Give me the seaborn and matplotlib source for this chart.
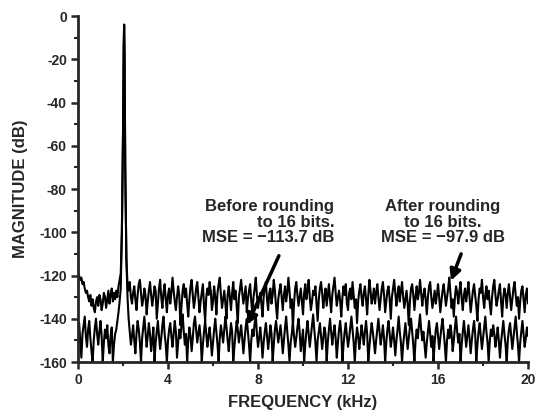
import numpy as np
import pandas as pd
import matplotlib
matplotlib.use("Agg")
import matplotlib.pyplot as plt
import seaborn as sns
from matplotlib.ticker import MultipleLocator

# ------------------------------
# Data (dB), 0.05 kHz steps
# ------------------------------
# "After rounding to 16 bits" (upper noise floor), 0.0 - 1.9 kHz
after_low = [
    -118, -120, -122, -121, -124, -123, -126, -128, -127, -130,
    -132, -129, -134, -131, -135, -137, -132, -130, -134, -129,
    -131, -136, -133, -128, -130, -135, -131, -127, -133, -129,
    -126, -132, -128, -131, -127, -130, -125, -122, -119,
]
# 2.2 - 20.0 kHz
after_high = [
    -124, -127, -123, -130, -133, -128, -125, -131, -136, -129, -124, -122, -128, -134, -131, -126, -129, -138, -132, -127,
    -123, -129, -134, -130, -125, -127, -140, -133, -126, -122, -130, -135, -128, -124, -131, -137, -129, -126, -133, -128,
    -121, -127, -132, -136, -130, -125, -129, -143, -134, -127, -124, -130, -126, -133, -139, -131, -125, -122, -129, -135,
    -131, -126, -123, -130, -137, -132, -128, -124, -134, -141, -130, -126, -129, -123, -127, -136, -132, -125, -130, -138,
    -128, -124, -121, -129, -135, -131, -127, -133, -140, -129, -125, -130, -136, -128, -123, -131, -127, -134, -142, -130,
    -126, -122, -128, -133, -129, -125, -137, -131, -127, -124, -132, -138, -130, -126, -121, -129, -135, -131, -128, -133,
    -139, -130, -125, -123, -131, -136, -128, -126, -133, -129, -122, -127, -134, -140, -131, -127, -124, -130, -136, -129,
    -125, -132, -128, -121, -127, -135, -131, -144, -133, -126, -123, -129, -134, -130, -126, -132, -138, -128, -124, -131,
    -127, -122, -130, -136, -132, -127, -129, -125, -133, -141, -131, -126, -123, -128, -135, -130, -126, -134, -129, -124,
    -131, -137, -129, -125, -121, -128, -134, -130, -127, -132, -139, -130, -125, -129, -124, -133, -136, -128, -126, -131,
    -123, -129, -135, -131, -142, -132, -127, -124, -130, -134, -128, -125, -131, -138, -129, -122, -127, -133, -130, -126,
    -133, -128, -124, -130, -136, -131, -126, -123, -129, -137, -132, -127, -125, -131, -140, -130, -126, -122, -128, -134,
    -129, -125, -132, -127, -123, -130, -135, -131, -127, -133, -143, -132, -126, -124, -129, -136, -130, -125, -131, -128,
    -122, -128, -134, -129, -126, -131, -138, -130, -125, -123, -130, -135, -131, -127, -133, -129, -124, -130, -137, -132,
    -127, -124, -129, -134, -130, -126, -121, -128, -135, -131, -139, -130, -125, -128, -133, -127, -123, -131, -136, -129,
    -126, -132, -128, -123, -130, -137, -132, -127, -124, -129, -134, -141, -131, -126, -128, -122, -130, -135, -129, -125,
    -131, -127, -133, -138, -130, -125, -122, -129, -134, -131, -127, -124, -132, -139, -130, -126, -129, -135, -128, -124,
    -130, -136, -131, -126, -123, -129, -134, -130, -140, -132, -127, -125, -131, -137, -129, -126, -133,
]

# "Before rounding" (lower noise floor), 0.0 - 1.9 kHz
before_low = [
    -146, -142, -150, -158, -147, -143, -139, -148, -153, -145,
    -141, -149, -155, -160, -150, -144, -140, -147, -152, -146,
    -141, -148, -160, -151, -145, -149, -143, -152, -156, -148,
    -144, -160, -152, -147, -145, -141, -137, -132, -126,
]
# 2.2 - 20.0 kHz
before_high = [
    -130, -140, -146, -152, -148, -143, -150, -156, -147, -141, -145, -151, -160, -149, -144, -139, -146, -153, -148, -142,
    -147, -155, -150, -144, -160, -151, -146, -141, -148, -154, -149, -143, -139, -147, -152, -160, -150, -145, -142, -148,
    -153, -147, -141, -146, -158, -151, -145, -149, -143, -138, -146, -152, -147, -160, -150, -144, -148, -155, -149, -142,
    -139, -145, -151, -147, -143, -149, -160, -152, -146, -141, -147, -153, -148, -144, -150, -157, -151, -145, -140, -146,
    -152, -160, -149, -143, -147, -151, -145, -139, -144, -150, -155, -148, -142, -146, -160, -153, -147, -141, -145, -151,
    -147, -143, -149, -156, -150, -144, -140, -146, -152, -160, -150, -145, -148, -142, -138, -147, -153, -149, -144, -150,
    -158, -151, -146, -142, -148, -154, -149, -143, -147, -160, -152, -145, -141, -146, -151, -147, -143, -149, -156, -150,
    -144, -139, -146, -152, -160, -151, -147, -142, -148, -153, -149, -144, -140, -146, -155, -150, -145, -160, -152, -146,
    -141, -147, -153, -148, -143, -138, -145, -151, -160, -150, -146, -142, -148, -154, -149, -144, -147, -160, -151, -145,
    -140, -146, -152, -147, -143, -149, -158, -151, -145, -141, -147, -160, -152, -146, -142, -148, -153, -149, -144, -139,
    -145, -151, -160, -150, -144, -148, -154, -149, -143, -147, -152, -146, -141, -147, -160, -153, -147, -142, -146, -151,
    -156, -150, -145, -140, -146, -152, -148, -143, -149, -160, -151, -145, -141, -147, -153, -149, -144, -150, -157, -150,
    -145, -139, -146, -151, -160, -152, -147, -142, -148, -154, -149, -144, -140, -146, -152, -160, -150, -145, -149, -143,
    -138, -145, -150, -146, -152, -158, -151, -146, -141, -147, -153, -148, -160, -151, -145, -142, -148, -154, -149, -144,
    -140, -146, -152, -160, -150, -145, -149, -143, -147, -155, -150, -144, -139, -146, -151, -147, -160, -152, -146, -141,
    -147, -153, -148, -143, -149, -156, -150, -145, -141, -147, -160, -152, -146, -142, -148, -154, -149, -144, -139, -146,
    -151, -160, -150, -145, -148, -143, -147, -153, -149, -144, -150, -158, -151, -146, -141, -147, -152, -160, -150, -145,
    -142, -148, -154, -149, -144, -139, -146, -152, -160, -151, -146, -141, -147, -153, -149, -144, -148,
]

# Tone at about 2 kHz, shared by both traces
peak_freq = [1.95, 2.0, 2.03, 2.05, 2.07, 2.1, 2.15]
peak_level = [-100, -55, -15, -4, -18, -70, -112]

x_ticks = [0, 4, 8, 12, 16, 20]
y_ticks = [0, -20, -40, -60, -80, -100, -120, -140, -160]


def build_trace(low, high, name):
    freq = np.concatenate([np.linspace(0.0, 1.9, len(low)), peak_freq,
                           np.linspace(2.2, 20.0, len(high))])
    level = np.concatenate([low, peak_level, high])
    return pd.DataFrame({"freq": freq, "level": level, "trace": name})


def main():
    df = pd.concat([build_trace(after_low, after_high, "after"),
                    build_trace(before_low, before_high, "before")],
                   ignore_index=True)

    sns.set_style("ticks")
    plt.rcParams["font.family"] = ["Liberation Sans", "DejaVu Sans"]
    plt.rcParams["font.weight"] = "bold"
    plt.rcParams["axes.unicode_minus"] = False

    fig = plt.figure(figsize=(5.39, 4.16), dpi=100)
    ax = fig.add_axes([0.1447, 0.1298, 0.835, 0.8317])

    for name in ["after", "before"]:
        sns.lineplot(data=df[df["trace"] == name], x="freq", y="level",
                     color="black", lw=1.5, sort=False, estimator=None, ax=ax)

    ax.set_xlim(0, 20)
    ax.set_ylim(-160, 0)
    ax.set_xticks(x_ticks)
    ax.set_yticks(y_ticks)
    ax.xaxis.set_minor_locator(MultipleLocator(2))
    ax.yaxis.set_minor_locator(MultipleLocator(10))
    ax.tick_params(which="major", length=5, width=1.8, labelsize=10, pad=3)
    ax.tick_params(which="minor", length=3, width=1.5)
    for side in ["left", "bottom"]:
        ax.spines[side].set_linewidth(2.0)
    sns.despine(ax=ax)

    ax.set_xlabel("FREQUENCY (kHz)", fontsize=12, fontweight="bold", labelpad=6)
    ax.set_ylabel("MAGNITUDE (dB)", fontsize=12, fontweight="bold", labelpad=8)

    # Annotations
    ax.text(11.38, -95.4, "Before rounding\nto 16 bits.\nMSE = \u2212113.7 dB",
            ha="right", va="center", fontsize=12, fontweight="bold",
            linespacing=1.05)
    ax.annotate("", xy=(7.47, -144), xytext=(8.98, -109.7),
                arrowprops=dict(arrowstyle="-|>", lw=2.5, color="black",
                                mutation_scale=16))
    ax.text(16.22, -95.4, "After rounding\nto 16 bits.\nMSE = \u221297.9 dB",
            ha="center", va="center", fontsize=12, fontweight="bold",
            linespacing=1.05)
    ax.annotate("", xy=(16.53, -123.6), xytext=(17.07, -108.8),
                arrowprops=dict(arrowstyle="-|>", lw=2.5, color="black",
                                mutation_scale=16))

    fig.savefig("out.png", dpi=100)
    plt.close(fig)


if __name__ == "__main__":
    main()
